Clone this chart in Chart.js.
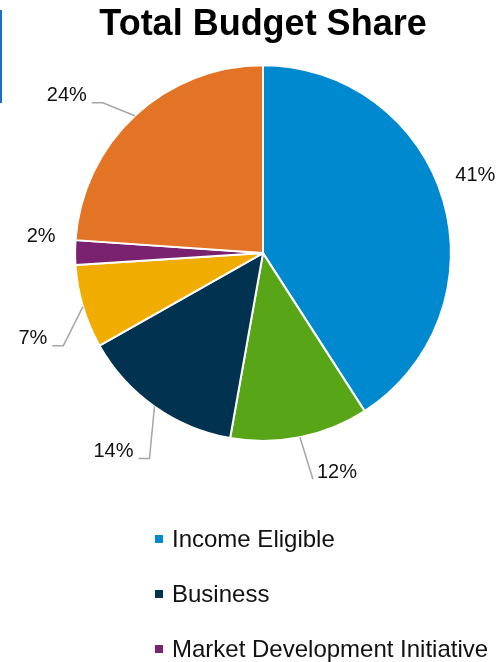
<!DOCTYPE html>
<html>
<head>
<meta charset="utf-8">
<script src="https://cdn.jsdelivr.net/npm/chart.js@4.4.1/dist/chart.umd.min.js"></script>
<style>
    html, body { margin: 0; padding: 0; background: #fff; }
    #wrap { position: relative; width: 500px; height: 662px; overflow: hidden; }
    #budgetChart { position: absolute; left: 0; top: 0; }
    /* edge of the neighbouring chart that shows in the crop */
    #edge { position: absolute; left: 0; top: 10px; width: 2px; height: 93px; background: #1a6fc8; }
    #legend { position: absolute; left: 155px; top: 511px; font-family: "Liberation Sans", Arial, sans-serif; font-size: 24px; color: #111; }
    #legend .item { height: 55px; line-height: 55px; white-space: nowrap; }
    #legend .box { display: inline-block; width: 8px; height: 8px; margin-right: 9px; vertical-align: middle; position: relative; top: -2px; }
</style>
</head>
<body>
<div id="wrap">
    <canvas id="budgetChart" width="500" height="662"></canvas>
    <div id="edge"></div>
    <div id="legend"></div>
</div>
<script>
// Budget categories (the 2nd, 4th and 6th legend names are cut off in the source)
const categories = ["Income Eligible", "Residential", "Business", "Multifamily", "Market Development Initiative", "Portfolio Administration"];
const shares = [40.9, 11.9, 14.0, 7.2, 2.1, 23.9];
const sliceColors = ["#0089CF", "#58A618", "#01324F", "#F0AC00", "#7A2270", "#E37325"];
// only these legend entries are visible
const legendShown = ["Income Eligible", "Business", "Market Development Initiative"];

// Percent labels outside the pie with grey leader lines
const outsideLabels = {
    id: 'outsideLabels',
    afterDatasetsDraw(chart, args, opts) {
        const ctx = chart.ctx;
        const meta = chart.getDatasetMeta(0);
        const values = chart.data.datasets[0].data;
        const total = values.reduce((a, b) => a + b, 0);
        ctx.save();
        ctx.font = opts.font;
        ctx.textAlign = 'center';
        ctx.textBaseline = 'middle';
        meta.data.forEach((arc, i) => {
            const p = arc.getProps(['x', 'y', 'startAngle', 'endAngle', 'outerRadius'], true);
            const mid = (p.startAngle + p.endAngle) / 2;
            const ex = p.x + Math.cos(mid) * p.outerRadius;
            const ey = p.y + Math.sin(mid) * p.outerRadius;
            const off = opts.offsets[i];
            const lx = ex + off[0];
            const ly = ey + off[1];
            const text = Math.round(values[i] / total * 100) + '%';
            const w = ctx.measureText(text).width;

            const rightSide = lx > ex;
            const tx = rightSide ? lx - w / 2 - 4 : lx + w / 2 + 5;
            const ty = ly + 7;
            if (Math.hypot(tx - ex, ty - ey) > 25) {
                ctx.strokeStyle = opts.lineColor;
                ctx.lineWidth = 1.5;
                ctx.beginPath();
                ctx.moveTo(ex, ey);
                if (!rightSide) {
                    ctx.lineTo(tx + Math.min(11, ex - tx), ty);
                }
                ctx.lineTo(tx, ty);
                ctx.stroke();
            }
            ctx.fillStyle = opts.color;
            ctx.fillText(text, lx, ly);
        });
        ctx.restore();
    }
};

const ctx = document.getElementById('budgetChart').getContext('2d');

const config = {
    type: 'pie',
    data: {
        labels: categories,
        datasets: [{
            data: shares,
            backgroundColor: sliceColors,
            borderColor: '#ffffff',
            borderWidth: 2
        }]
    },
    options: {
        responsive: false,
        animation: false,
        layout: {
            padding: { left: 26, right: 0, top: 0, bottom: 220 }
        },
        plugins: {
            legend: { display: false },
            tooltip: { enabled: false },
            title: {
                display: true,
                text: 'Total Budget Share',
                color: '#000',
                font: { family: '"Liberation Sans", Arial, sans-serif', size: 36, weight: 'bold' },
                padding: { top: 3, bottom: 18 }
            },
            outsideLabels: {
                font: '20px "Liberation Sans", Arial, sans-serif',
                color: '#111',
                lineColor: '#A6A6A6',
                offsets: [[32, -25], [37, 35], [-41, 45], [-50, 32], [-34, -16], [-68, -20]]
            }
        }
    },
    plugins: [outsideLabels]
};

const chart = new Chart(ctx, config);

// HTML legend built from the chart data
const legendEl = document.getElementById('legend');
chart.data.labels.forEach((name, i) => {
    if (!legendShown.includes(name)) return;
    const row = document.createElement('div');
    row.className = 'item';
    const box = document.createElement('span');
    box.className = 'box';
    box.style.background = sliceColors[i];
    row.appendChild(box);
    row.appendChild(document.createTextNode(name));
    legendEl.appendChild(row);
});
</script>
</body>
</html>
